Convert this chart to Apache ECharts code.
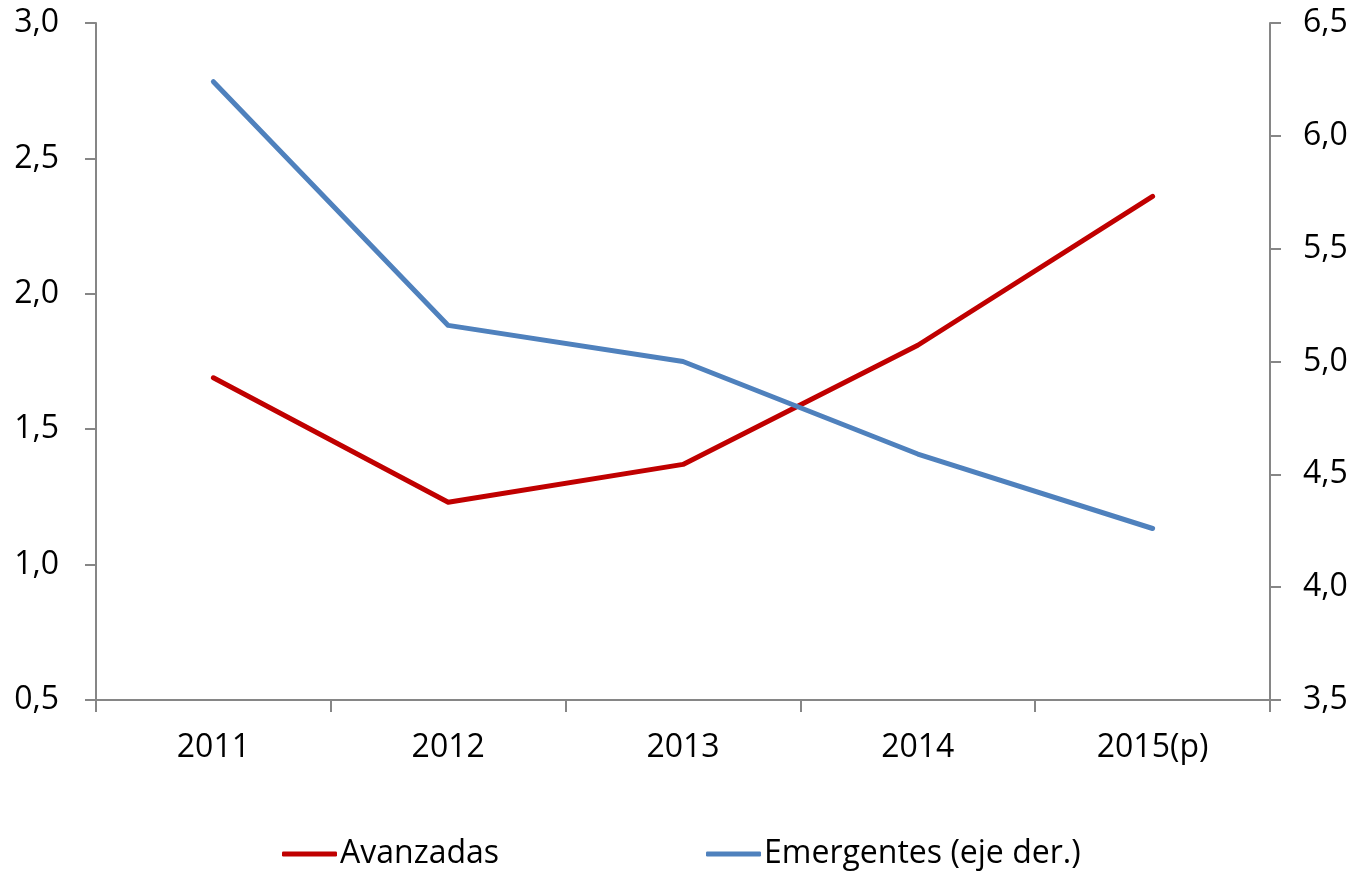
<!DOCTYPE html>
<html>
<head>
<meta charset="utf-8">
<script src="https://cdn.jsdelivr.net/npm/echarts@6/dist/echarts.min.js"></script>
<style>
html,body{margin:0;padding:0;background:#fff;}
#chart{width:1357px;height:872px;}
</style>
</head>
<body>
<div id="chart"></div>
<script>
const categories = ['2011', '2012', '2013', '2014', '2015(p)'];
const avanzadas = [1.69, 1.23, 1.37, 1.81, 2.36];
const emergentes = [6.24, 5.16, 5.00, 4.59, 4.26];
const seriesNames = ['Avanzadas', 'Emergentes (eje der.)'];

const FONT = '"Open Sans", "Noto Sans", sans-serif';
const axisColor = '#868686';
const fmt = v => v.toFixed(1).replace('.', ',');

const chart = echarts.init(document.getElementById('chart'));
chart.setOption({
  backgroundColor: '#ffffff',
  animation: false,
  textStyle: { fontFamily: FONT },
  grid: { left: 96, right: 87, top: 23, bottom: 172, containLabel: false },
  legend: {
    data: seriesNames,
    left: 277,
    top: 833,
    itemWidth: 55,
    itemHeight: 5,
    itemGap: 207,
    icon: 'roundRect',
    textStyle: { fontFamily: FONT, fontSize: 32, color: '#000', padding: [0, 0, 0, -2] }
  },
  xAxis: {
    type: 'category',
    data: categories,
    boundaryGap: true,
    axisLine: { lineStyle: { color: axisColor, width: 2 } },
    axisTick: { show: true, length: 12, lineStyle: { color: axisColor, width: 2 }, alignWithLabel: false },
    axisLabel: { fontFamily: FONT, fontSize: 32, color: '#000', margin: 32 },
    splitLine: { show: false }
  },
  yAxis: [
    {
      type: 'value', min: 0.5, max: 3.0, interval: 0.5, position: 'left',
      axisLine: { show: true, lineStyle: { color: axisColor, width: 2 } },
      axisTick: { show: true, length: 11, lineStyle: { color: axisColor, width: 2 } },
      axisLabel: { fontFamily: FONT, fontSize: 32, color: '#000', margin: 37, formatter: fmt },
      splitLine: { show: false }
    },
    {
      type: 'value', min: 3.5, max: 6.5, interval: 0.5, position: 'right',
      axisLine: { show: true, lineStyle: { color: axisColor, width: 2 } },
      axisTick: { show: true, length: 11, lineStyle: { color: axisColor, width: 2 } },
      axisLabel: { fontFamily: FONT, fontSize: 32, color: '#000', margin: 33, formatter: fmt },
      splitLine: { show: false }
    }
  ],
  series: [
    {
      name: seriesNames[0], type: 'line', yAxisIndex: 0, data: avanzadas,
      symbol: 'none', lineStyle: { color: '#C00000', width: 5, cap: 'round', join: 'round' },
      itemStyle: { color: '#C00000' }
    },
    {
      name: seriesNames[1], type: 'line', yAxisIndex: 1, data: emergentes,
      symbol: 'none', lineStyle: { color: '#4F81BD', width: 5, cap: 'round', join: 'round' },
      itemStyle: { color: '#4F81BD' }
    }
  ]
});
</script>
</body>
</html>
